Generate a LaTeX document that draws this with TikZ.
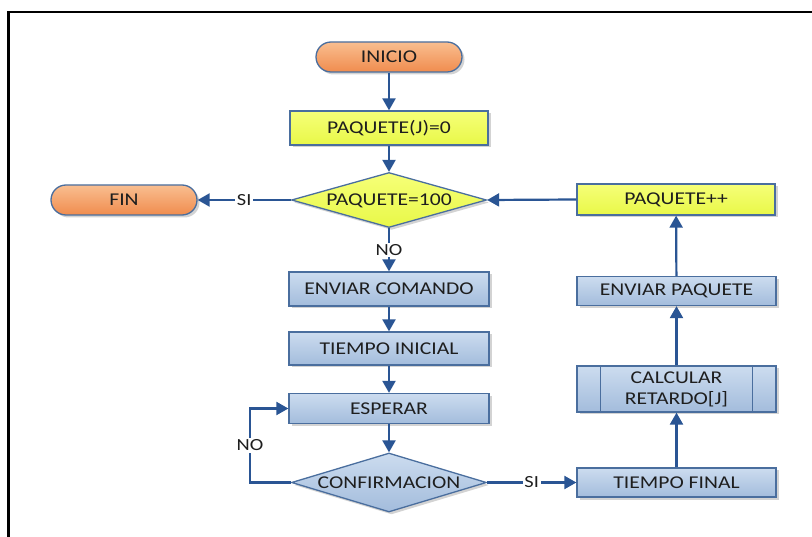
\documentclass[tikz,border=0pt]{standalone}
\usepackage{fontspec}
\setmainfont{Carlito}[FakeStretch=1.2]
\usetikzlibrary{shapes.geometric,arrows.meta,shadows}
\definecolor{edgeblue}{HTML}{4A6E9E}
\definecolor{arrblue}{HTML}{2A5594}
\definecolor{txt}{HTML}{1E1E1E}
\definecolor{orT}{HTML}{F9BE90}
\definecolor{orB}{HTML}{F08C4E}
\definecolor{yeT}{HTML}{F6FF78}
\definecolor{yeB}{HTML}{E8F848}
\definecolor{blT}{HTML}{CCDCEF}
\definecolor{blB}{HTML}{A3BCDC}
\tikzset{
  base/.style={draw=edgeblue, line width=1.3pt, text=txt, inner sep=0pt,
    font=\fontsize{18}{20}\selectfont,
    drop shadow={opacity=0.35, shadow xshift=2.5pt, shadow yshift=-2.5pt, fill=gray}},
  term/.style={base, rectangle, rounded corners=15pt, top color=orT, bottom color=orB,
    minimum width=146pt, minimum height=30pt},
  yelbox/.style={base, rectangle, top color=yeT, bottom color=yeB, minimum width=198pt},
  blubox/.style={base, rectangle, top color=blT, bottom color=blB, minimum width=200pt},
  yeldia/.style={base, diamond, top color=yeT, bottom color=yeB, minimum width=195pt, minimum height=55pt},
  bludia/.style={base, diamond, top color=blT, bottom color=blB, minimum width=195pt, minimum height=59pt},
  arr/.style={draw=arrblue, line width=2.2pt, -{Triangle[length=12pt,width=13pt]}},
  lbl/.style={fill=white, text=txt, inner sep=1.5pt, font=\fontsize{17}{19}\selectfont},
}
\newcommand{\ctext}[1]{\makebox[0pt]{\raisebox{-0.32em}[0pt][0pt]{#1}}}
\begin{document}
\begin{tikzpicture}[x=1pt,y=-1pt]
\useasboundingbox (0,0) rectangle (812,537);
\draw[line width=2.5pt, black] (8.5,537) -- (8.5,12) -- (812,12);

\node[term] (ini) at (389,57) {INICIO};
\node[yelbox, minimum height=34pt] (pj) at (389,128) {PAQUETE(J)=0};
\node[yeldia] (d1) at (389,200) {\ctext{PAQUETE=100}};
\node[term] (fin) at (124,200) {FIN};
\node[blubox, minimum height=34pt] (env) at (389,289) {ENVIAR COMANDO};
\node[blubox, minimum height=33pt] (ti) at (389,348.5) {TIEMPO INICIAL};
\node[blubox, minimum height=30pt] (esp) at (389,408.5) {ESPERAR};
\node[bludia] (conf) at (389,482.5) {\ctext{CONFIRMACION}};
\node[blubox, minimum width=199pt, minimum height=29pt] (tf) at (676.5,482.5) {TIEMPO FINAL};
\node[blubox, minimum width=199pt, minimum height=46pt, align=center,
      font=\fontsize{18}{21}\selectfont] (calc) at (676.5,389) {CALCULAR\\RETARDO[J]};
\draw[edgeblue, line width=1.3pt] ([xshift=24pt]calc.north west) -- ([xshift=24pt]calc.south west);
\draw[edgeblue, line width=1.3pt] ([xshift=-24pt]calc.north east) -- ([xshift=-24pt]calc.south east);
\node[blubox, minimum width=199pt, minimum height=29pt] (ep) at (676.5,291) {ENVIAR PAQUETE};
\node[yelbox, minimum width=198pt, minimum height=31pt] (pp) at (676,199.5) {PAQUETE++};

\coordinate (loop) at (250,482.5);

\draw[arr] (ini) -- (pj);
\draw[arr] (pj) -- (d1);
\draw[arr] (d1.west) -- node[lbl]{SI} (fin.east);
\draw[arr] (d1.south) -- node[lbl]{NO} (env.north);
\draw[arr] (env) -- (ti);
\draw[arr] (ti) -- (esp);
\draw[arr] (esp) -- (conf);
\draw[arr] (conf.west) -- (loop) |- node[lbl, pos=0.25]{NO} (esp.west);
\draw[arr] (conf.east) -- node[lbl]{SI} (tf.west);
\draw[arr] (tf) -- (calc);
\draw[arr] (calc) -- (ep);
\draw[arr] (ep) -- (pp);
\draw[arr] (pp.west) -- (d1.east);
\end{tikzpicture}
\end{document}
